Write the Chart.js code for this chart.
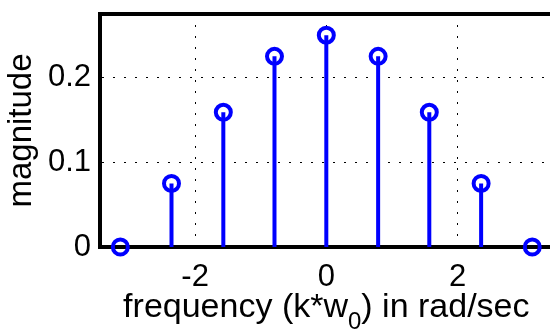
<!DOCTYPE html>
<html>
<head>
<meta charset="utf-8">
<script src="https://cdn.jsdelivr.net/npm/chart.js@4/dist/chart.umd.min.js"></script>
<style>
  html, body { margin: 0; padding: 0; background: #fff; overflow: hidden; }
  #wrap { width: 550px; height: 333px; }
</style>
</head>
<body>
<div id="wrap"><canvas id="stemgraph" width="550" height="333"></canvas></div>
<script>
// Frequencies k*w0 (rad/sec) and the magnitude at each one
var freqs = [-3.14, -2.36, -1.57, -0.79, 0, 0.79, 1.57, 2.36, 3.14];
var mags  = [0, 0.075, 0.159, 0.225, 0.25, 0.225, 0.159, 0.075, 0];

var xTicks = [-2, 0, 2];        // Tick values on the frequency axis
var yTicks = [0, 0.1, 0.2];     // Tick values on the magnitude axis
var xRange = [-3.45, 3.41];     // right side of the plot box is cut off by the picture edge
var yRange = [0, 0.275];

var blue = 'rgb(0,0,255)';
var fontFamily = '"Liberation Sans", Arial, Helvetica, sans-serif';

// Stems are drawn as one line with a gap after each stem
var stemData = [];
var headData = [];
for (let i = 0; i < freqs.length; i++) {
    stemData.push({x: freqs[i], y: 0});
    stemData.push({x: freqs[i], y: mags[i]});
    stemData.push({x: freqs[i], y: null});
    headData.push({x: freqs[i], y: mags[i]});
}

// x label needs a subscript 0, so it is written by hand under the axis
var xTitlePlugin = {
    id: 'xTitle',
    afterDraw(chart) {
        var ctx = chart.ctx;
        var parts = [['frequency (k*w', 34, 0], ['0', 24, 12], [') in rad/sec', 34, 0]];
        var total = 0;
        ctx.save();
        parts.forEach(p => { ctx.font = p[1] + 'px ' + fontFamily; total += ctx.measureText(p[0]).width; });
        var x = chart.scales.x.getPixelForValue(0) - total / 2;   // centred under the middle of the axis
        var base = 317;
        ctx.fillStyle = '#000';
        ctx.textBaseline = 'alphabetic';
        ctx.textAlign = 'left';
        parts.forEach(p => {
            ctx.font = p[1] + 'px ' + fontFamily;
            ctx.fillText(p[0], x, base + p[2]);
            x += ctx.measureText(p[0]).width;
        });
        ctx.restore();
    }
};

// fixed axis sizes, and no extra room for labels hanging over the ends
function fixSize(prop, size) {
    return s => {
        s[prop] = size;
        s.paddingTop = 0; s.paddingBottom = 0;
        s.paddingLeft = 0; s.paddingRight = 0;
    };
}

var stemPlot = new Chart(document.getElementById('stemgraph'), {
    type: 'line',
    data: {
        datasets: [
            {   label: 'heads', data: headData, showLine: false, order: 0, clip: false,
                pointStyle: 'circle', pointRadius: 7.5, pointBorderWidth: 4,
                pointBorderColor: blue, pointBackgroundColor: 'rgba(255,255,255,0)' },
            {   label: 'stems', data: stemData, order: 1, spanGaps: false,
                borderColor: blue, borderWidth: 4, pointRadius: 0, borderCapStyle: 'butt' }
        ]
    },
    options: {
        responsive: false,
        animation: false,
        events: [],
        layout: { padding: 0, autoPadding: false },  // no room kept for the circles at the edge
        plugins: { legend: { display: false }, tooltip: { enabled: false } },
        scales: {
            x: {
                type: 'linear', position: 'bottom', min: xRange[0], max: xRange[1],
                afterBuildTicks: s => { s.ticks = xTicks.map(v => ({value: v})); },
                afterFit: fixSize('height', 86),
                ticks: { color: '#000', padding: 12, maxRotation: 0, font: { family: fontFamily, size: 31 },
                         callback: v => String(v) },
                grid: { color: '#000', lineWidth: 1, drawTicks: false },
                border: { display: true, color: '#000', width: 4, dash: [2, 9] }
            },
            xTop: {
                type: 'linear', position: 'top', min: xRange[0], max: xRange[1],
                afterFit: fixSize('height', 14),
                ticks: { display: false },
                grid: { display: false, drawTicks: false },
                border: { display: true, color: '#000', width: 4 }
            },
            y: {
                type: 'linear', position: 'left', min: yRange[0], max: yRange[1],
                afterBuildTicks: s => { s.ticks = yTicks.map(v => ({value: v})); },
                afterFit: fixSize('width', 100),
                ticks: { color: '#000', padding: 9, font: { family: fontFamily, size: 31 },
                         callback: v => String(v) },
                grid: { color: '#000', lineWidth: 1, drawTicks: false },
                border: { display: true, color: '#000', width: 4, dash: [2, 9] },
                title: { display: true, text: 'magnitude', color: '#000',
                         font: { family: fontFamily, size: 33 }, padding: { top: 2, bottom: 0 } }
            }
        }
    },
    plugins: [xTitlePlugin]
});
</script>
</body>
</html>
